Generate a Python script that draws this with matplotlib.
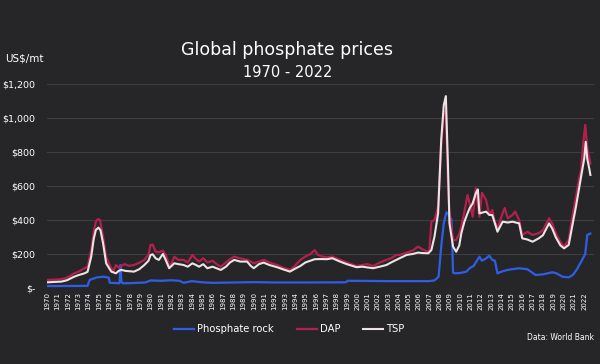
import matplotlib
matplotlib.use("Agg")
import matplotlib.pyplot as plt
from matplotlib.ticker import FuncFormatter

# ---- data (US$/mt) ----
rock_t = [1970.0, 1973.9, 1974.1, 1974.8, 1975.5, 1975.95, 1976.05, 1977.0, 1977.08, 1977.17,
          1977.3, 1978.0, 1979.5, 1980.0, 1981.0, 1982.0, 1982.8, 1983.2, 1984.0, 1985.0,
          1986.0, 1988.0, 1990.0, 1992.0, 1995.0, 1998.9, 1999.1, 2003.0, 2007.0, 2007.5,
          2007.9, 2008.15, 2008.4, 2008.65, 2008.9, 2009.15, 2009.3, 2009.5, 2010.0, 2010.6,
          2010.9, 2011.3, 2011.85, 2012.1, 2012.5, 2012.8, 2013.1, 2013.35, 2013.6, 2014.0,
          2014.5, 2015.0, 2015.7, 2016.5, 2017.3, 2018.0, 2018.9, 2019.3, 2019.9, 2020.5,
          2020.9, 2021.3, 2021.8, 2022.1, 2022.3, 2022.6]
rock_v = [11, 12, 47, 62, 66, 60, 30, 28, 135, 40,
          27, 28, 32, 44, 42, 45, 42, 30, 40, 33,
          30, 32, 34, 32, 32, 33, 42, 40, 40, 44,
          66, 243, 380, 445, 430, 400, 90, 86, 88, 96,
          116, 130, 184, 160, 174, 190, 165, 160, 86, 96,
          105, 110, 116, 110, 76, 80, 92, 86, 66, 62,
          76, 110, 165, 200, 312, 320]

dap_t = [1970.0, 1970.5, 1971.3, 1971.8, 1972.2, 1972.6, 1973.0, 1973.6, 1973.9, 1974.25,
         1974.5, 1974.7, 1974.9, 1975.1, 1975.4, 1975.7, 1976.0, 1976.2, 1976.4, 1976.65,
         1976.9, 1977.15, 1977.5, 1977.9, 1978.4, 1978.8, 1979.4, 1979.8, 1980.0, 1980.2,
         1980.5, 1980.8, 1981.2, 1981.5, 1981.8, 1982.0, 1982.3, 1982.7, 1983.2, 1983.6,
         1984.05, 1984.4, 1984.7, 1985.1, 1985.5, 1986.0, 1986.4, 1986.8, 1987.3, 1987.7,
         1988.1, 1988.7, 1989.35, 1989.7, 1990.0, 1990.5, 1990.95, 1991.5, 1992.25, 1992.8,
         1993.5, 1993.9, 1994.5, 1995.0, 1995.5, 1995.9, 1996.2, 1996.6, 1997.1, 1997.6,
         1998.35, 1999.0, 1999.95, 2000.5, 2001.0, 2001.55, 2002.2, 2002.85, 2003.3, 2003.8,
         2004.1, 2004.8, 2005.4, 2005.9, 2006.4, 2006.9, 2007.0, 2007.2, 2007.5, 2007.85,
         2008.0, 2008.15, 2008.4, 2008.6, 2008.8, 2008.95, 2009.3, 2009.6, 2009.9, 2010.1,
         2010.4, 2010.7, 2010.9, 2011.2, 2011.5, 2011.85, 2012.1, 2012.5, 2012.8, 2013.1,
         2013.3, 2013.6, 2014.1, 2014.3, 2014.6, 2015.05, 2015.3, 2015.7, 2016.0, 2016.5,
         2017.0, 2017.6, 2018.0, 2018.6, 2018.9, 2019.25, 2019.7, 2020.05, 2020.5, 2020.8,
         2021.2, 2021.5, 2021.7, 2021.9, 2022.1, 2022.3, 2022.6]
dap_v = [47, 48, 51, 58, 70, 86, 95, 116, 125, 223,
         330, 390, 405, 400, 302, 184, 140, 116, 100, 135,
         120, 129, 140, 130, 135, 145, 165, 195, 253, 255,
         213, 210, 219, 190, 135, 140, 184, 165, 165, 150,
         194, 170, 155, 175, 150, 160, 140, 125, 150, 170,
         184, 174, 165, 155, 145, 155, 165, 150, 135, 120,
         106, 125, 165, 185, 200, 223, 195, 185, 180, 185,
         165, 150, 129, 135, 140, 129, 149, 165, 175, 194,
         194, 208, 220, 243, 225, 213, 220, 390, 400, 478,
         650, 831, 1037, 1037, 635, 441, 282, 282, 320, 360,
         450, 547, 498, 419, 586, 419, 560, 517, 430, 459,
         400, 351, 439, 470, 410, 429, 450, 400, 312, 330,
         312, 322, 340, 410, 380, 322, 270, 243, 282, 400,
         537, 640, 694, 850, 960, 820, 733]

tsp_t = [1970.0, 1970.6, 1971.35, 1971.9, 1972.6, 1973.0, 1973.6, 1973.9, 1974.25, 1974.5,
         1974.7, 1974.95, 1975.15, 1975.4, 1975.7, 1976.0, 1976.2, 1976.65, 1976.9, 1977.15,
         1977.6, 1978.4, 1978.9, 1979.4, 1979.8, 1980.0, 1980.2, 1980.5, 1980.8, 1981.2,
         1981.5, 1981.8, 1982.3, 1982.7, 1983.2, 1983.6, 1984.05, 1984.4, 1984.7, 1985.1,
         1985.5, 1986.0, 1986.8, 1987.3, 1987.7, 1988.1, 1988.7, 1989.35, 1989.7, 1990.0,
         1990.5, 1990.95, 1991.5, 1992.25, 1992.8, 1993.5, 1993.9, 1994.5, 1995.0, 1995.9,
         1996.5, 1997.1, 1997.6, 1998.35, 1999.0, 1999.95, 2000.5, 2001.55, 2002.2, 2002.85,
         2003.3, 2003.8, 2004.1, 2004.8, 2005.4, 2005.9, 2006.4, 2006.9, 2007.2, 2007.5,
         2007.85, 2008.15, 2008.4, 2008.6, 2008.8, 2008.95, 2009.3, 2009.6, 2009.9, 2010.1,
         2010.4, 2010.7, 2010.9, 2011.2, 2011.5, 2011.7, 2011.85, 2012.5, 2012.8, 2013.1,
         2013.6, 2014.1, 2014.6, 2015.05, 2015.7, 2016.0, 2016.5, 2017.0, 2017.6, 2018.0,
         2018.6, 2018.9, 2019.25, 2019.7, 2020.05, 2020.5, 2020.8, 2021.2, 2021.7, 2022.0,
         2022.15, 2022.3, 2022.5, 2022.6]
tsp_v = [33, 35, 37, 45, 66, 75, 86, 95, 184, 290,
         341, 355, 340, 263, 145, 115, 96, 86, 100, 106,
         100, 96, 110, 135, 160, 194, 198, 174, 165, 200,
         160, 116, 145, 140, 135, 125, 145, 135, 125, 140,
         116, 125, 106, 125, 150, 165, 155, 155, 130, 116,
         140, 149, 135, 122, 110, 96, 110, 129, 150, 169,
         170, 169, 175, 155, 140, 122, 125, 116, 125, 135,
         150, 165, 174, 194, 200, 208, 205, 204, 223, 302,
         439, 870, 1076, 1129, 733, 380, 243, 213, 250, 322,
         390, 439, 469, 498, 557, 580, 439, 449, 430, 429,
         331, 390, 385, 390, 380, 292, 285, 272, 292, 310,
         380, 350, 298, 250, 233, 253, 350, 478, 655, 760,
         860, 760, 700, 665]

years = list(range(1970, 2023))
y_ticks = [0, 200, 400, 600, 800, 1000, 1200]

BG = "#262628"
C_ROCK = "#2f5ee6"
C_DAP = "#b3204d"
C_TSP = "#ece4e4"

fig = plt.figure(figsize=(6.0, 3.64), dpi=100, facecolor=BG)
ax = fig.add_axes([0.078, 0.209, 0.912, 0.560], facecolor=BG)

ax.plot(rock_t, rock_v, color=C_ROCK, lw=1.6, label="Phosphate rock")
ax.plot(dap_t, dap_v, color=C_DAP, lw=1.6, label="DAP")
ax.plot(tsp_t, tsp_v, color=C_TSP, lw=1.5, label="TSP")

ax.set_xlim(1969.95, 2022.95)
ax.set_ylim(0, 1200)
ax.set_yticks(y_ticks)
ax.yaxis.set_major_formatter(FuncFormatter(lambda v, p: "$-" if v == 0 else f"${int(v):,}"))
ax.set_xticks(years)
ax.set_xticklabels([str(y) for y in years], rotation=90, fontsize=5, color="white")
ax.tick_params(axis="y", length=0, pad=8, labelsize=6.8, labelcolor="white")
ax.tick_params(axis="x", length=0, pad=3)
ax.grid(axis="y", color="#3e3e40", lw=0.8)
ax.set_axisbelow(True)
for s in ax.spines.values():
    s.set_visible(False)

fig.text(0.479, 0.862, "Global phosphate prices", ha="center", va="center",
         fontsize=12.5, color="white")
fig.text(0.479, 0.800, "1970 - 2022", ha="center", va="center",
         fontsize=10.5, color="white")
fig.text(0.008, 0.840, "US$/mt", ha="left", va="center", fontsize=7.5, color="white")
fig.text(0.99, 0.072, "Data: World Bank", ha="right", va="center", fontsize=5.5, color="white")

leg = fig.legend(loc="center", bbox_to_anchor=(0.482, 0.095), ncol=3, frameon=False,
                 fontsize=7.2, labelcolor="white", handlelength=2.0, handletextpad=0.3,
                 columnspacing=2.3)

fig.savefig("out.png", dpi=100, facecolor=BG)
